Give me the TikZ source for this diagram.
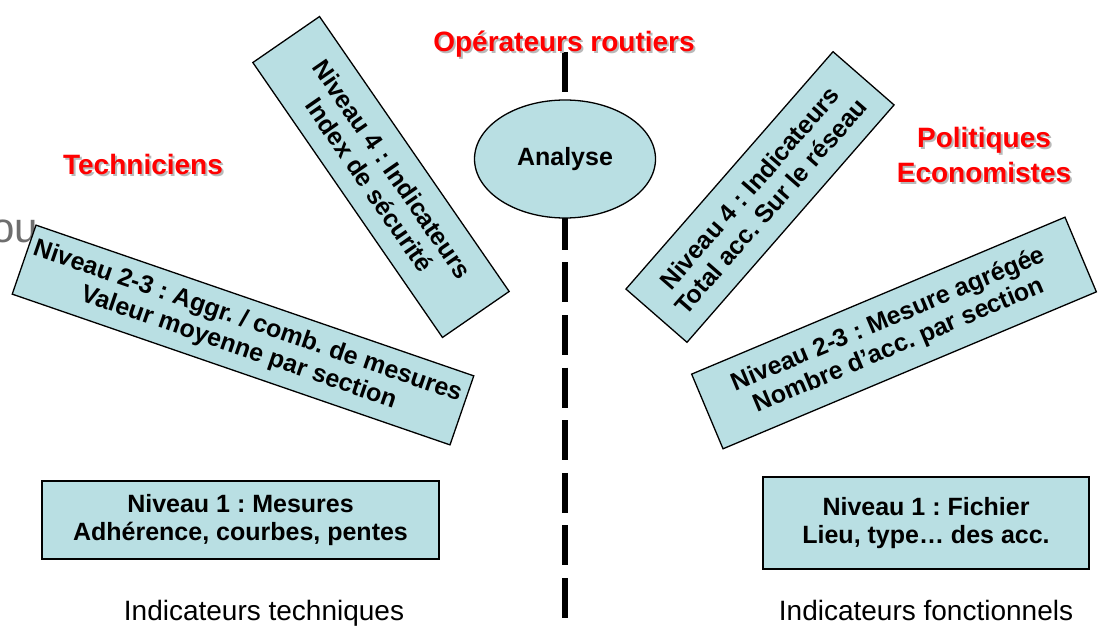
\documentclass[tikz,border=0pt]{standalone}
\usepackage{fontspec}
\setmainfont{Liberation Sans}
\usetikzlibrary{shapes.geometric}
\definecolor{boxblue}{RGB}{185,223,227}
\definecolor{shadowgray}{RGB}{185,185,185}
\definecolor{stray}{RGB}{110,110,110}
\frenchspacing
\begin{document}
\begin{tikzpicture}[x=1pt,y=-1pt,
  level/.style={draw,line width=1.3pt,fill=boxblue,align=center,inner sep=0pt,
    font=\bfseries\fontsize{25}{28}\selectfont},
  role/.style={text=red,align=center,inner sep=0pt,
    font=\bfseries\fontsize{28}{35}\selectfont},
  roleshadow/.style={role,text=shadowgray},
  caption/.style={inner sep=0pt,font=\fontsize{28}{33}\selectfont}]
  \useasboundingbox (0,0) rectangle (1105,628);
  \coordinate (divtop) at (565,52);
  \coordinate (divbot) at (565,618);
  \node[inner sep=0pt,anchor=base east,text=stray,font=\fontsize{42}{42}\selectfont] (stray) at (38,243) {ou};
  \draw[line width=6pt,dash pattern=on 40pt off 12.6pt] (divtop) -- (divbot);
  \node[draw,line width=1.3pt,fill=boxblue,ellipse,minimum width=181pt,minimum height=118pt,inner sep=0pt,
    font=\bfseries\fontsize{25}{28}\selectfont] (analyse) at (565,159) {Analyse};
  % left side
  \node[level,minimum width=334pt,minimum height=81pt,rotate=-55.4] (n4left) at (381,177)
    {Niveau 4 : Indicateurs\\Index de sécurité};
  \node[level,minimum width=463pt,minimum height=73pt,rotate=-19] (n23left) at (243,335)
    {Niveau 2-3 : Aggr. / comb. de mesures\\Valeur moyenne par section};
  \node[level,minimum width=397pt,minimum height=78pt] (n1left) at (240.5,520)
    {Niveau 1 : Mesures\\Adhérence, courbes, pentes};
  % right side
  \node[level,minimum width=315pt,minimum height=81pt,rotate=48.9] (n4right) at (760,197)
    {Niveau 4 : Indicateurs\\Total acc. Sur le réseau};
  \node[level,minimum width=405pt,minimum height=81pt,rotate=22.8] (n23right) at (894,333)
    {Niveau 2-3 : Mesure agrégée\\Nombre d’acc. par section};
  \node[level,minimum width=326pt,minimum height=92pt] (n1right) at (926,523)
    {Niveau 1 : Fichier\\Lieu, type… des acc.};
  % groups
  \node[roleshadow,anchor=base] at (566,54) {Opérateurs routiers};
  \node[role,anchor=base] (ops) at (564,52) {Opérateurs routiers};
  \node[roleshadow,anchor=base] at (145,177) {Techniciens};
  \node[role,anchor=base] (techn) at (143,175) {Techniciens};
  \node[roleshadow] at (986,157) {Politiques\\Economistes};
  \node[role] (polit) at (984,155) {Politiques\\Economistes};
  \node[caption,anchor=base] (captleft) at (264,620) {Indicateurs techniques};
  \node[caption,anchor=base] (captright) at (926,620) {Indicateurs fonctionnels};
\end{tikzpicture}
\end{document}
